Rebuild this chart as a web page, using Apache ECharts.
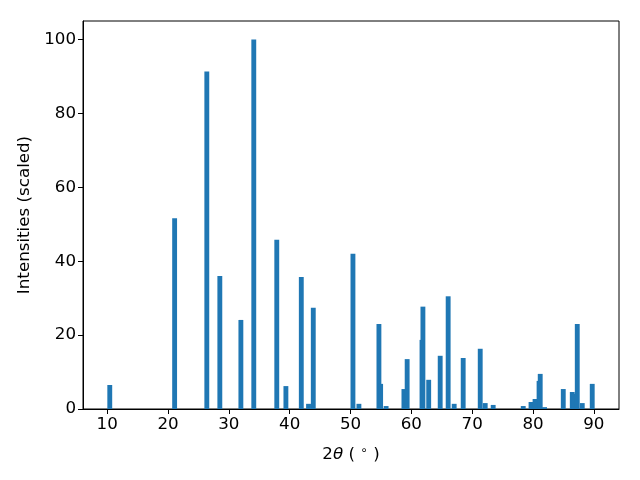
<!DOCTYPE html>
<html>
<head>
<meta charset="utf-8">
<script src="https://cdn.jsdelivr.net/npm/echarts@6/dist/echarts.min.js"></script>
<style>html,body{margin:0;padding:0;background:#fff}#c{width:640px;height:480px}</style>
</head>
<body>
<div id="c"></div>
<script>
var twoTheta = [10.43, 21.09, 26.38, 28.52, 31.98, 34.1, 37.88, 39.38, 41.91, 43.1, 43.88,
  50.4, 51.38, 54.67, 54.95, 55.85, 58.78, 59.31, 61.75, 61.9, 62.85, 64.74, 66.05, 67.04,
  68.52, 71.32, 72.14, 73.45, 78.39, 79.67, 80.33, 80.99, 81.18, 81.9, 84.97, 86.45, 86.75,
  87.27, 88.09, 89.73];
var intensities = [6.5, 51.6, 91.3, 36.0, 24.1, 100, 45.8, 6.2, 35.7, 1.4, 27.4,
  42.0, 1.4, 23.0, 6.8, 0.8, 5.4, 13.5, 18.7, 27.7, 7.9, 14.4, 30.5, 1.4,
  13.8, 16.3, 1.6, 1.1, 0.8, 1.9, 2.7, 7.6, 9.5, 0.5, 5.4, 4.6, 4.1,
  23.0, 1.6, 6.8];
var xTicks = [10, 20, 30, 40, 50, 60, 70, 80, 90];
var yTicks = [0, 20, 40, 60, 80, 100];
var barWidthUnits = 0.8;

var data = twoTheta.map(function (x, i) { return [x, intensities[i]]; });
var chart = echarts.init(document.getElementById('c'), null, {renderer: 'canvas'});
var font = 'DejaVu Sans';
var fs = 16.7;
chart.setOption({
  animation: false,
  grid: {left: 83, right: 21, top: 21, bottom: 71, show: true, borderColor: '#000', borderWidth: 1, backgroundColor: 'transparent'},
  xAxis: {
    type: 'value', min: 6.03, max: 94.13,
    axisLine: {show: true, lineStyle: {color: '#000', width: 1}},
    axisTick: {show: true, length: 5, lineStyle: {color: '#000'}, customValues: xTicks},
    axisLabel: {color: '#000', fontSize: fs, fontFamily: font, margin: 7, customValues: xTicks},
    splitLine: {show: false},
    name: '{a|2}{i|θ}{a| ( }{s|∘}{a| )}',
    nameLocation: 'middle', nameGap: 36,
    nameTextStyle: {
      color: '#000', fontSize: fs, fontFamily: font,
      rich: {
        a: {fontSize: fs, fontFamily: font, color: '#000'},
        i: {fontSize: fs, fontFamily: font, fontStyle: 'italic', color: '#000'},
        s: {fontSize: 12, fontFamily: font, color: '#000', padding: [0, 0, 7, 0]}
      }
    }
  },
  yAxis: {
    type: 'value', min: 0, max: 105,
    axisLine: {show: true, lineStyle: {color: '#000', width: 1}},
    axisTick: {show: true, length: 5, lineStyle: {color: '#000'}, customValues: yTicks},
    axisLabel: {color: '#000', fontSize: fs, fontFamily: font, margin: 7, customValues: yTicks},
    splitLine: {show: false},
    name: 'Intensities (scaled)',
    nameLocation: 'middle', nameGap: 49,
    nameTextStyle: {color: '#000', fontSize: fs, fontFamily: font}
  },
  series: [{
    type: 'custom',
    data: data,
    clip: true,
    renderItem: function (params, api) {
      var x = api.value(0), y = api.value(1);
      var p0 = api.coord([x - barWidthUnits / 2, y]);
      var p1 = api.coord([x + barWidthUnits / 2, 0]);
      return {
        type: 'rect',
        shape: {x: p0[0], y: p0[1], width: p1[0] - p0[0], height: p1[1] - p0[1]},
        style: {fill: '#1f77b4'}
      };
    }
  }]
});
</script>
</body>
</html>
